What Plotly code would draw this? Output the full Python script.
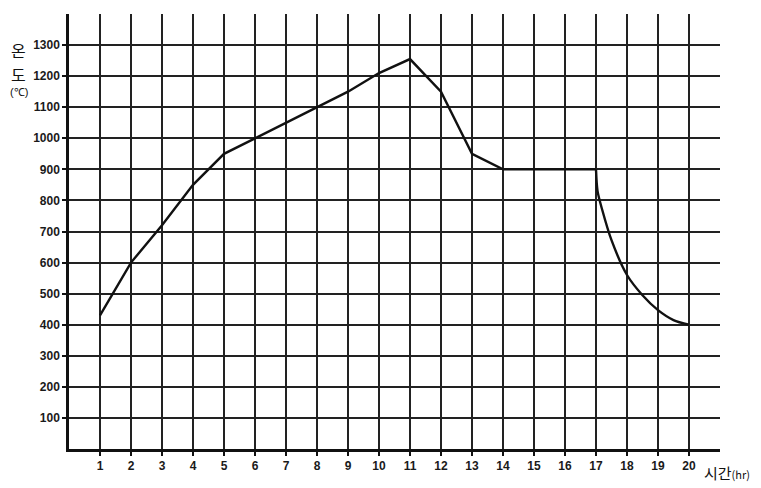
import plotly.graph_objects as go

# data
hours = [1, 2, 3, 4, 5, 6, 7, 8, 9, 10, 11, 12, 13, 14, 15, 16, 17]
temps = [430, 600, 720, 850, 950, 1000, 1050, 1100, 1150, 1210, 1255, 1150, 950, 900, 900, 900, 900]
cool_hours = [17, 17.05, 17.2, 17.5, 18, 18.5, 19, 19.5, 20]
cool_temps = [900, 830, 770, 672, 560, 495, 447, 415, 400]

x_ticks = list(range(1, 21))
y_ticks = list(range(100, 1400, 100))

font_family = "Liberation Sans, Arial, sans-serif"
kr_font = "Noto Sans CJK KR"

# the page body adds an 8px offset; figure sized so the plot lands on the reference pixels
OFF = 8
W, H = 753, 480
ML, MR, MT, MB = 61, 41, 6, 39
plot_w = W - ML - MR
plot_h = H - MT - MB


def px_x(px):
    return (px - OFF - ML) / plot_w


def px_y(py):
    return (H - MB - (py - OFF)) / plot_h


fig = go.Figure()
fig.add_trace(go.Scatter(x=hours, y=temps, mode="lines",
                         line=dict(color="#111", width=2.4), showlegend=False))
fig.add_trace(go.Scatter(x=cool_hours, y=cool_temps, mode="lines",
                         line=dict(color="#111", width=2.4, shape="spline", smoothing=0.8),
                         showlegend=False))

axis_common = dict(showgrid=True, gridcolor="#222", gridwidth=1.5,
                   showline=True, linecolor="#111", linewidth=2.5,
                   ticks="outside", ticklen=4, tickwidth=2, tickcolor="#111",
                   zeroline=False, fixedrange=True, automargin=False,
                   tickfont=dict(size=12, family=font_family, color="#1a1a1a", weight="bold"))

fig.update_layout(
    width=W, height=H,
    margin=dict(l=ML, r=MR, t=MT, b=MB, autoexpand=False),
    paper_bgcolor="white", plot_bgcolor="white",
    font=dict(family=font_family, size=12, color="#222"),
    xaxis=dict(range=[0, 21], tickvals=x_ticks, ticktext=[str(v) for v in x_ticks], **axis_common),
    yaxis=dict(range=[0, 1400], tickvals=y_ticks, ticktext=[str(v) for v in y_ticks], **axis_common),
    annotations=[
        dict(text="온", x=px_x(18), y=px_y(50), xref="paper", yref="paper",
             xanchor="center", yanchor="middle", showarrow=False, textangle=0,
             font=dict(size=16, color="#111", family=kr_font)),
        dict(text="도", x=px_x(18), y=px_y(74), xref="paper", yref="paper",
             xanchor="center", yanchor="middle", showarrow=False, textangle=0,
             font=dict(size=16, color="#111", family=kr_font)),
        dict(text="(℃)", x=px_x(19), y=px_y(92), xref="paper", yref="paper",
             xanchor="center", yanchor="middle", showarrow=False, textangle=0,
             font=dict(size=11, color="#111", family=font_family)),
        dict(text="시간<span style='font-size:11px'>(hr)</span>", x=px_x(702), y=px_y(472),
             xref="paper", yref="paper", xanchor="left", yanchor="middle", showarrow=False,
             textangle=0, font=dict(size=15, color="#111", family=kr_font)),
    ],
)

fig.write_html("out.html")
